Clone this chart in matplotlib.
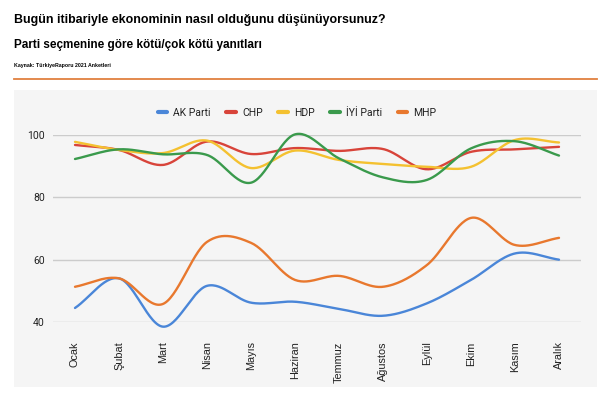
import matplotlib.pyplot as plt
import numpy as np

# veriler (grafikten okunan yaklaşık değerler)
aylar = ["Ocak", "Şubat", "Mart", "Nisan", "Mayıs", "Haziran",
         "Temmuz", "Ağustos", "Eylül", "Ekim", "Kasım", "Aralık"]
ak_parti = [44.5, 54, 38.5, 51.6, 46.2, 46.5, 44.2, 42, 46, 53.5, 62, 60]
chp = [96.8, 95.2, 90.4, 97.9, 93.9, 95.8, 94.9, 95.5, 89, 94.6, 95.4, 96.2]
hdp = [97.8, 95.2, 94.2, 98.2, 89.4, 95, 92, 90.7, 89.8, 89.8, 98.4, 97.6]
iyi_parti = [92.3, 95.4, 93.8, 93.6, 84.7, 100.2, 92.5, 86.4, 85.6, 95.7, 98, 93.4]
mhp = [51.3, 54, 45.8, 65.7, 65.4, 53.5, 54.8, 51.3, 58.3, 73.4, 64.7, 67]

seriler = [("AK Parti", ak_parti, "#4a86d8"),
           ("CHP", chp, "#d8443a"),
           ("HDP", hdp, "#f4c130"),
           ("İYİ Parti", iyi_parti, "#3a9a4c"),
           ("MHP", mhp, "#e8782e")]


def yumusat(y, n=30):
    # Catmull-Rom ile yumuşak eğri
    y = np.asarray(y, dtype=float)
    p = np.concatenate([[2 * y[0] - y[1]], y, [2 * y[-1] - y[-2]]])
    xs, ys = [], []
    for i in range(len(y) - 1):
        p0, p1, p2, p3 = p[i], p[i + 1], p[i + 2], p[i + 3]
        t = np.linspace(0, 1, n, endpoint=False)
        yy = 0.5 * ((2 * p1) + (-p0 + p2) * t + (2 * p0 - 5 * p1 + 4 * p2 - p3) * t ** 2
                    + (-p0 + 3 * p1 - 3 * p2 + p3) * t ** 3)
        xs.append(i + t)
        ys.append(yy)
    xs.append([len(y) - 1])
    ys.append([y[-1]])
    return np.concatenate(xs), np.concatenate(ys)


W, H = 614, 403
fig = plt.figure(figsize=(W / 100, H / 100), dpi=100)
fig.patch.set_facecolor("white")

# başlıklar
baslik_font = "Liberation Sans"
fig.text(14 / W, 1 - 20 / H, "Bugün itibariyle ekonominin nasıl olduğunu düşünüyorsunuz?",
         fontsize=8.95, fontweight="bold", family=baslik_font, va="center", ha="left")
fig.text(14 / W, 1 - 45 / H, "Parti seçmenine göre kötü/çok kötü yanıtları",
         fontsize=8.5, fontweight="bold", family=baslik_font, va="center", ha="left")
fig.text(14 / W, 1 - 65.5 / H, "Kaynak: TürkiyeRaporu 2021 Anketleri",
         fontsize=3.8, fontweight="bold", family=baslik_font, va="center", ha="left")
fig.add_artist(plt.Line2D([14 / W, 597 / W], [1 - 78.5 / H, 1 - 78.5 / H],
                          color="#e0803f", lw=1.3))

# gri panel
panel = plt.Rectangle((14 / W, 1 - 387 / H), (597 - 14) / W, (387 - 90) / H,
                      transform=fig.transFigure, facecolor="#f5f5f5",
                      edgecolor="none", zorder=0)
fig.add_artist(panel)

ax = fig.add_axes([53 / W, 1 - 322 / H, (581 - 53) / W, (322 - 135) / H])
ax.set_facecolor("none")
ax.set_xlim(-0.5, 11.5)
ax.set_ylim(40, 100)
ax.set_yticks([40, 60, 80, 100])
ax.yaxis.grid(True, color="#cccccc", lw=1)
ax.set_axisbelow(True)
for s in ax.spines.values():
    s.set_visible(False)
ax.tick_params(length=0, labelsize=7.5, colors="#222222")
ax.tick_params(axis="y", pad=6)
for lbl in ax.get_yticklabels():
    lbl.set_family("Roboto")
ax.set_xticks(range(len(aylar)))
ax.set_xticklabels(aylar, rotation=90, fontsize=7.8, va="top", family="Liberation Sans")
ax.tick_params(axis="x", pad=14)

for ad, deger, renk in seriler:
    xs, ys = yumusat(deger)
    ax.plot(xs, ys, color=renk, lw=1.7, label=ad, clip_on=False,
            solid_capstyle="round")

leg = fig.legend(loc="center", bbox_to_anchor=(297 / W, 1 - 113 / H), ncol=5,
                 frameon=False, handlelength=0.9, columnspacing=1.5,
                 handletextpad=0.6, prop={"family": "Roboto", "size": 7.5})
for h in leg.get_lines():
    h.set_linewidth(3)
for t in leg.get_texts():
    t.set_color("#222222")

fig.savefig("out.png", dpi=100)
